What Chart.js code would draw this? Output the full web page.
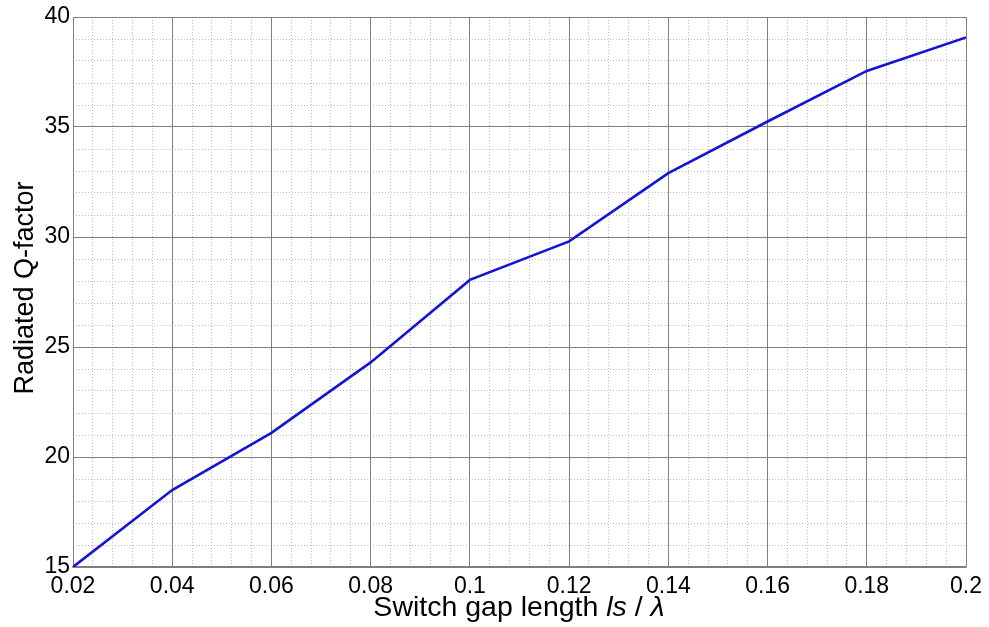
<!DOCTYPE html>
<html>
<head>
<meta charset="utf-8">
<script src="https://cdn.jsdelivr.net/npm/chart.js@4/dist/chart.umd.min.js"></script>
<style>
  html, body { margin: 0; padding: 0; background: #fff; }
  #wrap { width: 989px; height: 627px; position: relative; }
</style>
</head>
<body>
<div id="wrap"><canvas id="c" width="989" height="627"></canvas></div>
<script>
// Normalised switch gap length (ls / lambda)
const gapLength = [0.02, 0.04, 0.06, 0.08, 0.10, 0.12, 0.14, 0.16, 0.18, 0.20];
// Radiated Q-factor at each gap length
const qFactor = [15.0, 18.5, 21.1, 24.3, 28.05, 29.8, 32.9, 35.25, 37.55, 39.07];
// Axis tick labels
const xTickLabels = ['0.02', '0.04', '0.06', '0.08', '0.1', '0.12', '0.14', '0.16', '0.18', '0.2'];
const yTickLabels = ['15', '20', '25', '30', '35', '40'];

const FONT = '"Liberation Sans", Arial, Helvetica, sans-serif';
const MAJOR = '#7f7f7f';
const MINOR = '#bdbdbd';

const points = gapLength.map((x, i) => ({ x: x, y: qFactor[i] }));

// Axis titles, with the italic symbols in the x title
const axisTitles = {
  id: 'axisTitles',
  afterDraw(chart) {
    const ctx = chart.ctx;
    ctx.save();
    ctx.fillStyle = '#000';
    ctx.textBaseline = 'alphabetic';

    // x title: "Switch gap length ls / λ"
    const size = 28.5;
    const parts = [
      { t: 'Switch gap length ', f: 'normal ' + size + 'px ' + FONT },
      { t: 'ls', f: 'italic ' + size + 'px ' + FONT },
      { t: ' / ', f: 'normal ' + size + 'px ' + FONT },
      { t: 'λ', f: 'italic ' + size + 'px ' + FONT }
    ];
    let total = 0;
    parts.forEach(p => { ctx.font = p.f; p.w = ctx.measureText(p.t).width; total += p.w; });
    let x = 519 - total / 2;
    ctx.textAlign = 'left';
    parts.forEach(p => { ctx.font = p.f; ctx.fillText(p.t, x, 616); x += p.w; });

    // y title
    ctx.translate(33, 288);
    ctx.rotate(-Math.PI / 2);
    ctx.textAlign = 'center';
    ctx.font = 'normal 27px ' + FONT;
    ctx.fillText('Radiated Q-factor', 0, 0);
    ctx.restore();
  }
};

new Chart(document.getElementById('c'), {
  type: 'line',
  data: {
    datasets: [{
      data: points,
      borderColor: '#1414d4',
      borderWidth: 2.6,
      pointRadius: 0,
      tension: 0,
      fill: false
    }]
  },
  options: {
    responsive: false,
    animation: false,
    devicePixelRatio: 1,
    layout: { padding: { left: 0, top: 17, right: 23, bottom: 0 } },
    plugins: { legend: { display: false }, tooltip: { enabled: false } },
    scales: {
      xMinor: {
        type: 'linear', position: 'bottom', min: 0.02, max: 0.2, z: -1,
        ticks: { display: false, stepSize: 0.004, maxTicksLimit: 200 },
        grid: {
          drawTicks: false, lineWidth: 1,
          color: c => (c.index % 5 === 0 ? 'rgba(0,0,0,0)' : MINOR)
        },
        border: { display: false, dash: [1, 2] },
        afterFit: s => { s.height = 0; }
      },
      yMinor: {
        type: 'linear', position: 'left', min: 15, max: 40, z: -1,
        ticks: { display: false, stepSize: 1, maxTicksLimit: 200 },
        grid: {
          drawTicks: false, lineWidth: 1,
          color: c => (c.index % 5 === 0 ? 'rgba(0,0,0,0)' : MINOR)
        },
        border: { display: false, dash: [1, 2] },
        afterFit: s => { s.width = 0; }
      },
      x: {
        type: 'linear', position: 'bottom', min: 0.02, max: 0.2,
        ticks: {
          stepSize: 0.02, maxTicksLimit: 100, autoSkip: false, maxRotation: 0,
          color: '#000', font: { family: FONT, size: 23 }, padding: 6,
          callback: (v, i) => xTickLabels[i]
        },
        grid: { color: MAJOR, lineWidth: 1, drawTicks: false },
        border: { display: true, color: MAJOR, width: 1.5 },
        afterFit: s => { s.height = 60; }
      },
      y: {
        type: 'linear', position: 'left', min: 15, max: 40,
        ticks: {
          stepSize: 5, maxTicksLimit: 100, autoSkip: false,
          color: '#000', font: { family: FONT, size: 23 }, padding: 3,
          callback: (v, i) => yTickLabels[i]
        },
        grid: { color: MAJOR, lineWidth: 1, drawTicks: false },
        border: { display: true, color: MAJOR, width: 1 },
        afterFit: s => { s.width = 73; }
      }
    }
  },
  plugins: [axisTitles]
});
</script>
</body>
</html>
